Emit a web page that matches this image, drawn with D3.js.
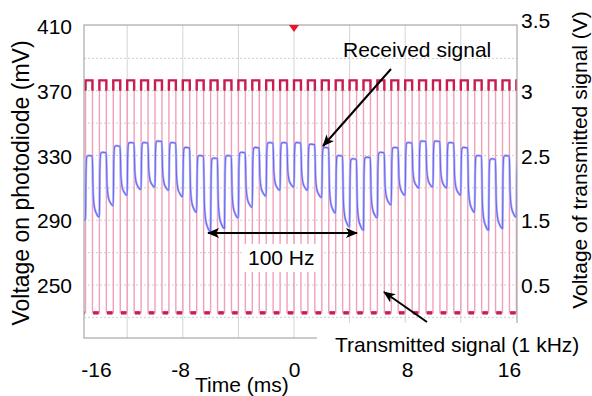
<!DOCTYPE html>
<html>
<head>
<meta charset="utf-8">
<script src="https://cdn.jsdelivr.net/npm/d3@7"></script>
<style>
  html, body { margin: 0; padding: 0; background: #fff; }
  svg { display: block; }
  text { font-family: "Liberation Sans", Arial, sans-serif; fill: #000; }
</style>
</head>
<body>
<svg id="chart" width="592" height="396"></svg>
<script>
// ---------- data ----------
// cycle index n (ms); each cycle: high during [n, n+0.5], low during [n+0.5, n+1]
const cycles = [-16,-15,-14,-13,-12,-11,-10,-9,-8,-7,-6,-5,-4,-3,-2,-1,0,1,2,3,4,5,6,7,8,9,10,11,12,13,14,15,16];
// transmitted signal (V)
const txHigh = [3.08,3.08,3.08,3.08,3.08,3.08,3.08,3.08,3.08,3.08,3.08,3.08,3.08,3.08,3.08,3.08,3.08,3.08,3.08,3.08,3.08,3.08,3.08,3.08,3.08,3.08,3.08,3.08,3.08,3.08,3.08,3.08,3.08];
const txLow  = [0.07,0.07,0.07,0.07,0.07,0.07,0.07,0.07,0.07,0.07,0.07,0.07,0.07,0.07,0.07,0.07,0.07,0.07,0.07,0.07,0.07,0.07,0.07,0.07,0.07,0.07,0.07,0.07,0.07,0.07,0.07,0.07,0.07];
// received signal on photodiode (mV): top of high part and bottom of low part
const rxHigh = [328,330,332,336,338,338,339,338,335,330,328.5,330,332,335,338,338,338,337,335,330,328,329,332,335,338,339,339,338,335,330,328,330,328];
const rxLow  = [290,292,299,305.5,309,310.5,308.5,304.5,295,283,285,291.5,298,305,308.5,310.5,308.5,304,294.5,286,284,291.5,299.5,305.5,310,310.5,310,305.5,295,284,285,292,299];
// axis ticks
const xTicks = [-16,-8,0,8,16];
const yLeftTicks = [410,370,330,290,250];
const yRightTicks = [0.5,1.5,2.5,3,3.5];

// ---------- layout ----------
const svg = d3.select("#chart");
const P = {left: 84, right: 517, top: 25, bottom: 338};
const FS = 21;

const x = d3.scaleLinear().domain([-16, 16]).range([71.6, 516.4]);
const yL = d3.scaleLinear().domain([250, 410]).range([285, 26]);
const yR = d3.scaleLinear().domain(yRightTicks).range([250,290,330,370,410].map(yL));
// label positions of the time ticks as printed in the figure
const xLab = d3.scaleLinear().domain(xTicks).range([96, 180, 294, 407, 509]);

const defs = svg.append("defs");
defs.append("clipPath").attr("id", "plot")
  .append("rect").attr("x", P.left).attr("y", P.top)
  .attr("width", P.right - P.left).attr("height", P.bottom - P.top);

// grid
const grid = svg.append("g");
[-12,-8,-4,0,4,8,12].forEach(t => {
  grid.append("line").attr("x1", x(t)).attr("x2", x(t))
    .attr("y1", P.top).attr("y2", P.bottom)
    .attr("stroke", "#d4d4d4").attr("stroke-width", 1);
});
[230,250,270,290,310,330,350,370,390].forEach(v => {
  grid.append("line").attr("x1", P.left).attr("x2", P.right)
    .attr("y1", yL(v)).attr("y2", yL(v))
    .attr("stroke", "#cfcfcf").attr("stroke-width", 1)
    .attr("stroke-dasharray", "2,2");
});

const plot = svg.append("g").attr("clip-path", "url(#plot)");

// transmitted square wave
const txPts = [];
cycles.forEach((n, i) => {
  txPts.push([n, txLow[i > 0 ? i - 1 : 0]]);
  txPts.push([n, txHigh[i]]);
  txPts.push([n + 0.5, txHigh[i]]);
  txPts.push([n + 0.5, txLow[i]]);
});
txPts.push([cycles[cycles.length - 1] + 1, txLow[txLow.length - 1]]);
plot.append("path")
  .attr("d", d3.line().x(d => x(d[0])).y(d => yR(d[1]))(txPts))
  .attr("fill", "none").attr("stroke", "#f0a0b8").attr("stroke-width", 1.4);

// darker persistence caps on the flat parts
cycles.forEach((n, i) => {
  plot.append("path")
    .attr("d", d3.line().x(d => x(d[0])).y(d => yR(d[1]))([[n, txHigh[i] - 0.08],[n, txHigh[i]],[n + 0.5, txHigh[i]],[n + 0.5, txHigh[i] - 0.08]]))
    .attr("fill", "none").attr("stroke", "#c81d52").attr("stroke-width", 2.4);
  plot.append("line")
    .attr("x1", x(n + 0.55)).attr("x2", x(n + 0.95))
    .attr("y1", yR(txLow[i])).attr("y2", yR(txLow[i]))
    .attr("stroke", "#c81d52").attr("stroke-width", 3.4);
});

// received signal
const rxPts = [];
cycles.forEach((n, i) => {
  const hi = rxHigh[i], lo = rxLow[i];
  const prevLo = i > 0 ? rxLow[i - 1] : lo;
  const dIn = hi - prevLo, d = hi - lo;
  rxPts.push([n, prevLo]);
  rxPts.push([n + 0.035, hi - 0.25 * dIn]);
  rxPts.push([n + 0.09, hi - 0.02 * dIn]);
  rxPts.push([n + 0.2, hi]);
  rxPts.push([n + 0.49, hi - 0.3]);
  rxPts.push([n + 0.55, hi - 0.62 * d]);
  rxPts.push([n + 0.64, hi - 0.84 * d]);
  rxPts.push([n + 0.8, hi - 0.95 * d]);
  rxPts.push([n + 0.97, lo]);
});
const rxLine = d3.line().curve(d3.curveMonotoneX).x(d => x(d[0])).y(d => yL(d[1]));
plot.append("path").attr("d", rxLine(rxPts))
  .attr("fill", "none").attr("stroke", "#b4b4ff").attr("stroke-width", 2.4);
plot.append("path").attr("d", rxLine(rxPts))
  .attr("fill", "none").attr("stroke", "#6a6aec").attr("stroke-width", 1.1);

// frame
svg.append("rect").attr("x", P.left).attr("y", P.top)
  .attr("width", P.right - P.left).attr("height", P.bottom - P.top)
  .attr("fill", "none").attr("stroke", "#a8a8a8").attr("stroke-width", 1.2);

// trigger marker
svg.append("path")
  .attr("d", `M${x(0) - 5},${P.top} L${x(0) + 5},${P.top} L${x(0)},${P.top + 7} Z`)
  .attr("fill", "#e8162a");

// white label boxes
svg.append("rect").attr("x", 317).attr("y", 323).attr("width", 275).attr("height", 34).attr("fill", "#fff");
svg.append("rect").attr("x", 243).attr("y", 244).attr("width", 78).attr("height", 28).attr("fill", "#fff");

// axes
function styleAxis(g) {
  g.select(".domain").remove();
  g.selectAll("text").style("font-size", FS + "px")
    .style("font-family", '"Liberation Sans", Arial, sans-serif').attr("fill", "#000");
}
const fmt = d => String(d);
svg.append("g").attr("transform", `translate(${P.left},0)`)
  .call(d3.axisLeft(yL).tickValues(yLeftTicks).tickSize(0).tickPadding(12).tickFormat(fmt))
  .call(styleAxis)
  .selectAll("text").attr("dy", "0.36em");
svg.append("g").attr("transform", `translate(${P.right},0)`)
  .call(d3.axisRight(yR).tickValues(yRightTicks).tickSize(0).tickPadding(4).tickFormat(fmt))
  .call(styleAxis)
  .selectAll("text").attr("dy", d => d === 3.5 ? "0.06em" : "0.36em");
svg.append("g").attr("transform", `translate(0,${P.bottom})`)
  .call(d3.axisBottom(xLab).tickValues(xTicks).tickSize(0).tickPadding(24).tickFormat(fmt))
  .call(styleAxis);

// axis titles
svg.append("text").attr("transform", "translate(29,183) rotate(-90)")
  .attr("text-anchor", "middle").style("font-size", "23px")
  .text("Voltage on photodiode (mV)");
svg.append("text").attr("transform", "translate(587,160) rotate(-90)")
  .attr("text-anchor", "middle").style("font-size", FS + "px")
  .text("Voltage of transmitted signal (V)");
svg.append("text").attr("x", 195).attr("y", 392).style("font-size", FS + "px")
  .text("Time (ms)");

// annotations
defs.append("marker").attr("id", "ah").attr("viewBox", "0 0 12 10")
  .attr("refX", 11).attr("refY", 5).attr("markerWidth", 12).attr("markerHeight", 10)
  .attr("markerUnits", "userSpaceOnUse").attr("orient", "auto-start-reverse")
  .append("path").attr("d", "M0,0 L12,5 L0,10 L3,5 Z").attr("fill", "#000");

svg.append("text").attr("x", 343).attr("y", 57).style("font-size", FS + "px").text("Received signal");
svg.append("text").attr("x", 248).attr("y", 265).style("font-size", FS + "px").text("100 Hz");
svg.append("text").attr("x", 335).attr("y", 352).style("font-size", FS + "px").text("Transmitted signal (1 kHz)");

svg.append("line").attr("x1", 391).attr("y1", 69).attr("x2", 323).attr("y2", 146)
  .attr("stroke", "#000").attr("stroke-width", 2).attr("marker-end", "url(#ah)");
svg.append("line").attr("x1", 208).attr("y1", 233).attr("x2", 357).attr("y2", 233)
  .attr("stroke", "#000").attr("stroke-width", 2)
  .attr("marker-start", "url(#ah)").attr("marker-end", "url(#ah)");
svg.append("line").attr("x1", 427).attr("y1", 322).attr("x2", 384).attr("y2", 292)
  .attr("stroke", "#000").attr("stroke-width", 2).attr("marker-end", "url(#ah)");
</script>
</body>
</html>
